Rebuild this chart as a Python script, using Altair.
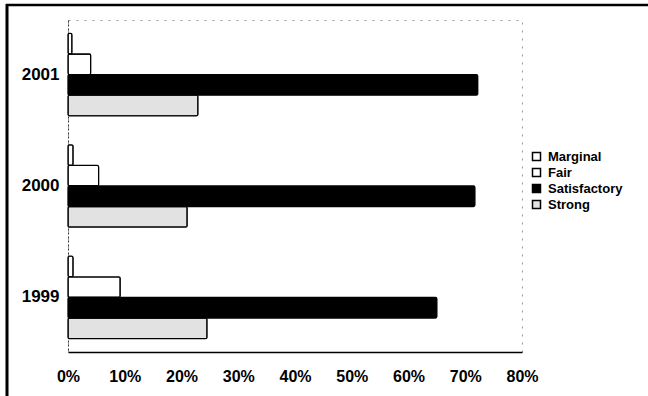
import altair as alt
import pandas as pd

years = ["2001", "2000", "1999"]
ratings = ["Marginal", "Fair", "Satisfactory", "Strong"]
marginal = [0.7, 0.9, 0.9]
fair = [4.0, 5.4, 9.2]
satisfactory = [72.2, 71.7, 65.0]
strong = [22.9, 21.0, 24.5]
x_ticks = [0, 0.1, 0.2, 0.3, 0.4, 0.5, 0.6, 0.7, 0.8]
colors = ["#ffffff", "#ffffff", "#000000", "#e2e2e2"]

rows = []
for i, yr in enumerate(years):
    for r, vals in zip(ratings, [marginal, fair, satisfactory, strong]):
        rows.append({"Year": yr, "Rating": r, "Share": vals[i] / 100.0})
df = pd.DataFrame(rows)

FONT = "Liberation Sans"

bars = alt.Chart(df).mark_bar(stroke="black", strokeWidth=1.3, cornerRadius=1.5).encode(
    x=alt.X("Share:Q",
            scale=alt.Scale(domain=[0, 0.8], nice=False, zero=True),
            axis=alt.Axis(format=".0%", values=x_ticks, title=None, ticks=False,
                          grid=False, labelPadding=16, labelFontSize=16,
                          labelFont=FONT, labelFontWeight="bold", labelColor="black",
                          domainColor="black", domainWidth=1.5, labelFlush=False)),
    y=alt.Y("Year:N", sort=years,
            scale=alt.Scale(paddingInner=0.26, paddingOuter=0.12),
            axis=alt.Axis(title=None, ticks=False, labelPadding=9, labelFontSize=17,
                          labelFont=FONT, labelFontWeight="bold", labelColor="black",
                          domainColor="#333333", domainWidth=1, domainDash=[2, 2])),
    yOffset=alt.YOffset("Rating:N", sort=ratings,
                        scale=alt.Scale(paddingInner=0, paddingOuter=0)),
    fill=alt.Fill("Rating:N", sort=ratings,
                  scale=alt.Scale(domain=ratings, range=colors),
                  legend=alt.Legend(title=None, orient="none", legendX=462, legendY=130,
                                    symbolType="square", symbolSize=64,
                                    symbolStrokeColor="black", symbolStrokeWidth=1.5,
                                    labelFont=FONT, labelFontWeight="bold",
                                    labelFontSize=13, labelColor="black",
                                    rowPadding=1, labelOffset=5)),
)

frame_df = pd.DataFrame({"a": [0]})
left_line = alt.Chart(frame_df).mark_rule(color="black", strokeWidth=3).encode(
    x=alt.value(-61), y=alt.value(-16), y2=alt.value(380))
top_line = alt.Chart(frame_df).mark_rule(color="black", strokeWidth=2.5).encode(
    x=alt.value(-62), x2=alt.value(590), y=alt.value(-15))

chart = alt.layer(bars, left_line, top_line).properties(
    width=454, height=332,
    padding={"left": 68, "top": 20, "right": 126, "bottom": 44},
    autosize=alt.AutoSizeParams(type="none"),
    background="white",
).configure_view(stroke="#999999", strokeDash=[2, 6], strokeWidth=1)

chart.save("out.html", embed_options={"renderer": "svg", "actions": False})
